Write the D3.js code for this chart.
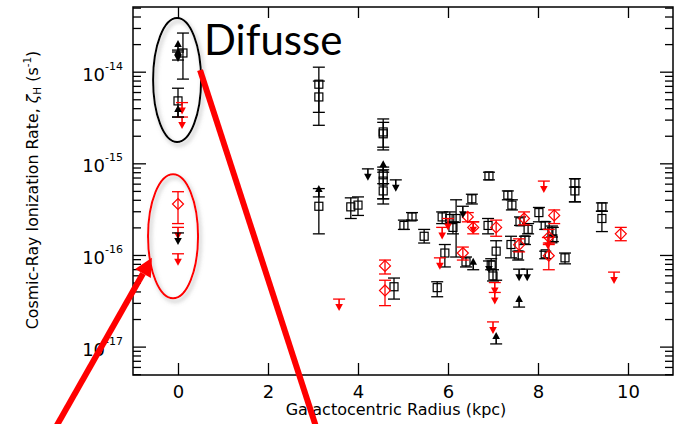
<!DOCTYPE html>
<html>
<head>
<meta charset="utf-8">
<script src="https://cdn.jsdelivr.net/npm/d3@7"></script>
<style>
  body { margin: 0; background: #fff; }
  svg { display: block; }
</style>
</head>
<body>
<svg id="chart" width="675" height="424"></svg>
<script>
// ---- data ----
const xTicks = [0, 2, 4, 6, 8, 10];
const yDecades = [-17, -16, -15, -14];
const yDomain = [4.9e-18, 5.08e-14];

// black open squares: [radius kpc, zeta, lower, upper]
const blackPoints = [
  [0.11, 1.60e-14, 8.3e-15, 2.64e-14],
  [0.00, 4.8e-15, 3.2e-15, 6.6e-15],
  [3.13, 7.3e-15, 3.6e-15, 1.12e-14],
  [3.13, 5.3e-15, 2.6e-15, 7.9e-15],
  [3.13, 3.4e-16, 1.7e-16, 5.3e-16],
  [3.84, 3.35e-16, 2.5e-16, 4.2e-16],
  [4.00, 3.5e-16, 2.7e-16, 4.3e-16],
  [4.56, 2.2e-15, 1.4e-15, 3.05e-15],
  [4.56, 2.1e-15, 1.5e-15, 2.8e-15],
  [4.56, 7.5e-16, 4.1e-16, 9.1e-16],
  [4.56, 6.4e-16, 3.6e-16, 8.5e-16],
  [4.56, 5.0e-16, 4.1e-16, 6.0e-16],
  [5.02, 2.1e-16, 1.9e-16, 2.4e-16],
  [5.20, 2.6e-16, 2.4e-16, 2.9e-16],
  [5.47, 1.6e-16, 1.35e-16, 1.9e-16],
  [4.80, 4.5e-17, 3.3e-17, 5.6e-17],
  [5.76, 4.4e-17, 3.5e-17, 5.1e-17],
  [5.87, 2.6e-16, 2.2e-16, 2.95e-16],
  [5.93, 1.05e-16, 7.4e-17, 1.3e-16],
  [6.04, 2.5e-16, 2.2e-16, 2.95e-16],
  [6.11, 2.0e-16, 1.7e-16, 2.3e-16],
  [6.18, 2.5e-16, 9.5e-17, 4.0e-16],
  [6.40, 8.4e-17, 7.4e-17, 9.5e-17],
  [6.53, 4.1e-16, 3.6e-16, 4.6e-16],
  [6.91, 7.3e-16, 6.6e-16, 8.0e-16],
  [6.89, 2.1e-16, 1.7e-16, 2.5e-16],
  [7.07, 1.1e-16, 5.3e-17, 1.43e-16],
  [6.96, 7.8e-17, 6.9e-17, 9.1e-17],
  [7.00, 5.9e-17, 5.2e-17, 6.9e-17],
  [7.33, 4.5e-16, 4.0e-16, 5.0e-16],
  [7.42, 3.5e-16, 3.1e-16, 4.0e-16],
  [7.40, 1.3e-16, 9.3e-17, 1.6e-16],
  [7.56, 1.0e-16, 8.8e-17, 1.1e-16],
  [7.60, 2.3e-16, 2.1e-16, 2.6e-16],
  [7.78, 1.9e-16, 1.7e-16, 2.2e-16],
  [7.71, 1.46e-16, 1.3e-16, 1.6e-16],
  [8.02, 2.9e-16, 2.3e-16, 3.3e-16],
  [8.16, 2.1e-16, 1.9e-16, 2.3e-16],
  [8.16, 1.03e-16, 9.1e-17, 1.1e-16],
  [8.33, 1.5e-16, 1.4e-16, 2.0e-16],
  [8.31, 1.8e-16, 1.57e-16, 2.07e-16],
  [8.60, 9.3e-17, 8.0e-17, 1.05e-16],
  [8.82, 6.1e-16, 3.8e-16, 6.8e-16],
  [8.82, 5.0e-16, 3.8e-16, 5.5e-16],
  [9.42, 3.35e-16, 3.0e-16, 3.7e-16],
  [9.42, 2.5e-16, 1.8e-16, 3.0e-16]
];

// black upper limits (down arrows): [radius, zeta]
const blackUpper = [
  [0.00, 1.72e-14],
  [0.00, 1.74e-16],
  [4.22, 8.7e-16],
  [4.84, 6.6e-16],
  [6.33, 3.4e-16],
  [6.91, 8.6e-17],
  [7.58, 7.0e-17],
  [7.76, 7.0e-17]
];

// black lower limits (up arrows): [radius, zeta]
const blackLower = [
  [0.00, 1.64e-14],
  [0.00, 1.34e-14],
  [0.00, 3.2e-15],
  [3.13, 4.3e-16],
  [4.56, 8.0e-16],
  [6.56, 6.9e-17],
  [7.58, 2.7e-17],
  [7.07, 1.07e-17]
];

// red diamonds: [radius, zeta, lower, upper]
const redPoints = [
  [0.00, 3.6e-16, 2.2e-16, 4.9e-16],
  [4.60, 7.6e-17, 6.2e-17, 8.8e-17],
  [4.60, 4.1e-17, 2.8e-17, 5.3e-17],
  [6.33, 1.05e-16, 8.8e-17, 1.22e-16],
  [6.44, 2.6e-16, 2.3e-16, 2.9e-16],
  [6.56, 2.0e-16, 1.7e-16, 2.3e-16],
  [7.07, 2.0e-16, 1.6e-16, 2.4e-16],
  [7.69, 2.5e-16, 2.13e-16, 2.95e-16],
  [7.58, 1.29e-16, 1.08e-16, 1.5e-16],
  [8.36, 2.7e-16, 2.2e-16, 3.1e-16],
  [8.24, 1.57e-16, 1.3e-16, 1.9e-16],
  [8.24, 9.8e-17, 6.9e-17, 1.35e-16],
  [9.84, 1.7e-16, 1.43e-16, 2.0e-16]
];

// red upper limits (down arrows): [radius, zeta]
const redUpper = [
  [0.09, 4.6e-15],
  [0.09, 3.2e-15],
  [0.00, 2.0e-16],
  [0.00, 1.03e-16],
  [3.58, 3.3e-17],
  [5.87, 2.0e-16],
  [5.82, 9.3e-17],
  [6.00, 2.5e-16],
  [6.56, 2.3e-16],
  [7.04, 5.0e-17],
  [7.04, 3.9e-17],
  [7.00, 1.86e-17],
  [8.13, 6.4e-16],
  [8.22, 1.55e-16],
  [9.69, 6.5e-17]
];

// ---- layout ----
const width = 675, height = 424;
const margin = {top: 7, right: 2, bottom: 49, left: 133};
const RED = '#ff0000';

const svg = d3.select('#chart');

const x = d3.scaleLinear().domain([-1, 11]).range([margin.left, width - margin.right]);
const y = d3.scaleLog().domain(yDomain).range([height - margin.bottom, margin.top]);

const defs = svg.append('defs');
const shadow = defs.append('filter').attr('id', 'shadow')
  .attr('x', '-30%').attr('y', '-30%').attr('width', '160%').attr('height', '160%');
shadow.append('feDropShadow')
  .attr('dx', 2).attr('dy', 3).attr('stdDeviation', 2)
  .attr('flood-color', '#777').attr('flood-opacity', 0.55);

// minor ticks 2..9 per decade
const minors = [];
yDecades.concat([-18]).forEach(e => {
  for (let m = 2; m <= 9; m++) {
    const v = m * Math.pow(10, e);
    if (v >= yDomain[0] && v <= yDomain[1]) minors.push(v);
  }
});
const majors = yDecades.map(e => Math.pow(10, e));

function styleAxis(g) {
  g.select('.domain').remove();
  g.selectAll('.tick line').attr('stroke', '#000').attr('stroke-width', 1.3);
}

// axes: ticks point inward on all four sides
svg.append('g')
  .attr('transform', `translate(0,${height - margin.bottom})`)
  .call(d3.axisBottom(x).tickValues(xTicks).tickSize(-12).tickPadding(10).tickFormat(d3.format('d')))
  .call(styleAxis)
  .call(g => g.selectAll('text').attr('font-family', 'DejaVu Sans').attr('font-size', 18).attr('fill', '#000'));

svg.append('g')
  .attr('transform', `translate(0,${margin.top})`)
  .call(d3.axisTop(x).tickValues(xTicks).tickSize(-11).tickFormat(''))
  .call(styleAxis);

[[d3.axisLeft, margin.left], [d3.axisRight, width - margin.right]].forEach(([ax, pos]) => {
  svg.append('g').attr('transform', `translate(${pos},0)`)
    .call(ax(y).tickValues(majors).tickSize(-13).tickFormat(''))
    .call(styleAxis);
  svg.append('g').attr('transform', `translate(${pos},0)`)
    .call(ax(y).tickValues(minors).tickSize(-8).tickFormat(''))
    .call(styleAxis);
});

// decade labels 10^n
const yLab = svg.append('g').attr('font-family', 'DejaVu Sans').attr('fill', '#000');
yDecades.forEach(e => {
  const t = yLab.append('text')
    .attr('x', margin.left - 10)
    .attr('y', y(Math.pow(10, e)) + 9)
    .attr('text-anchor', 'end')
    .attr('font-size', 18);
  t.append('tspan').text('10');
  t.append('tspan').attr('dy', -11).attr('font-size', 11).text(String(e));
});

// frame
svg.append('rect')
  .attr('x', margin.left).attr('y', margin.top)
  .attr('width', width - margin.left - margin.right)
  .attr('height', height - margin.top - margin.bottom)
  .attr('fill', 'none').attr('stroke', '#000').attr('stroke-width', 1.5);

// axis titles
svg.append('text')
  .attr('x', 396).attr('y', 415)
  .attr('text-anchor', 'middle')
  .attr('font-family', 'DejaVu Sans').attr('font-size', 16)
  .text('Galactocentric Radius (kpc)');

const yt = svg.append('text')
  .attr('transform', 'translate(38,190) rotate(-90)')
  .attr('text-anchor', 'middle')
  .attr('font-family', 'DejaVu Sans').attr('font-size', 15.8);
yt.append('tspan').text('Cosmic-Ray Ionization Rate, ');
yt.append('tspan').attr('font-style', 'italic').text('ζ');
yt.append('tspan').attr('font-size', 10.5).attr('dy', 3).text('H');
yt.append('tspan').attr('dy', -3).text(' (s');
yt.append('tspan').attr('font-size', 10.5).attr('dy', -7).text('-1');
yt.append('tspan').attr('dy', 7).text(')');

// ---- marks ----
const marks = svg.append('g');

function errorBars(data, color) {
  const g = marks.append('g').attr('stroke', color).attr('stroke-width', 1.3).attr('fill', 'none');
  data.forEach(([r, v, lo, hi]) => {
    const cx = x(r);
    g.append('line').attr('x1', cx).attr('x2', cx).attr('y1', y(lo)).attr('y2', y(hi));
    [lo, hi].forEach(b => g.append('line')
      .attr('x1', cx - 6).attr('x2', cx + 6).attr('y1', y(b)).attr('y2', y(b)));
  });
}

function limits(data, color, dir) {
  const g = marks.append('g');
  data.forEach(([r, v]) => {
    const cx = x(r), cy = y(v);
    const tip = cy + dir * 12;
    g.append('line').attr('x1', cx - 6).attr('x2', cx + 6).attr('y1', cy).attr('y2', cy)
      .attr('stroke', color).attr('stroke-width', 1.3);
    g.append('line').attr('x1', cx).attr('x2', cx).attr('y1', cy).attr('y2', tip - dir * 4)
      .attr('stroke', color).attr('stroke-width', 1.6);
    g.append('path')
      .attr('d', `M${cx - 3.8},${tip - dir * 7}L${cx + 3.8},${tip - dir * 7}L${cx},${tip}Z`)
      .attr('fill', color);
  });
}

errorBars(blackPoints, '#000');
marks.append('g').selectAll('rect').data(blackPoints).join('rect')
  .attr('x', d => x(d[0]) - 4).attr('y', d => y(d[1]) - 4)
  .attr('width', 8).attr('height', 8)
  .attr('fill', 'none').attr('stroke', '#000').attr('stroke-width', 1.2);

errorBars(redPoints, RED);
marks.append('g').selectAll('path').data(redPoints).join('path')
  .attr('d', d => {
    const cx = x(d[0]), cy = y(d[1]);
    return `M${cx},${cy - 5.5}L${cx + 5.5},${cy}L${cx},${cy + 5.5}L${cx - 5.5},${cy}Z`;
  })
  .attr('fill', 'none').attr('stroke', RED).attr('stroke-width', 1.2);

limits(redUpper, RED, 1);
limits(blackUpper, '#000', 1);
limits(blackLower, '#000', -1);

// ---- annotations ----
const note = svg.append('g');

note.append('ellipse')
  .attr('cx', x(-0.02)).attr('cy', y(8.1e-15)).attr('rx', 24).attr('ry', 62)
  .attr('fill', 'none').attr('stroke', '#000').attr('stroke-width', 2)
  .attr('filter', 'url(#shadow)');

note.append('ellipse')
  .attr('cx', x(-0.11)).attr('cy', y(1.6e-16)).attr('rx', 25).attr('ry', 62)
  .attr('fill', 'none').attr('stroke', RED).attr('stroke-width', 2)
  .attr('filter', 'url(#shadow)');

note.append('text')
  .attr('x', x(0.58)).attr('y', y(1.52e-14))
  .attr('font-family', 'Lato').attr('font-size', 42).attr('fill', '#000')
  .text('Difusse');

// red pointer lines
const p1a = [x(-2.96), y(8.1e-19)], p1b = [x(-0.58), y(9.3e-17)];
const p2a = [x(0.49), y(1.04e-14)], p2b = [x(3.38), y(4.5e-19)];

note.append('line')
  .attr('x1', p2a[0]).attr('y1', p2a[1]).attr('x2', p2b[0]).attr('y2', p2b[1])
  .attr('stroke', RED).attr('stroke-width', 6);

const ang = Math.atan2(p1b[1] - p1a[1], p1b[0] - p1a[0]);
const headLen = 18, headW = 9;
const base = [p1b[0] - headLen * Math.cos(ang), p1b[1] - headLen * Math.sin(ang)];
note.append('line')
  .attr('x1', p1a[0]).attr('y1', p1a[1]).attr('x2', base[0]).attr('y2', base[1])
  .attr('stroke', RED).attr('stroke-width', 6);
note.append('path')
  .attr('d', `M${p1b[0]},${p1b[1]}` +
    `L${base[0] + headW * Math.sin(ang)},${base[1] - headW * Math.cos(ang)}` +
    `L${base[0] - headW * Math.sin(ang)},${base[1] + headW * Math.cos(ang)}Z`)
  .attr('fill', RED);
</script>
</body>
</html>
